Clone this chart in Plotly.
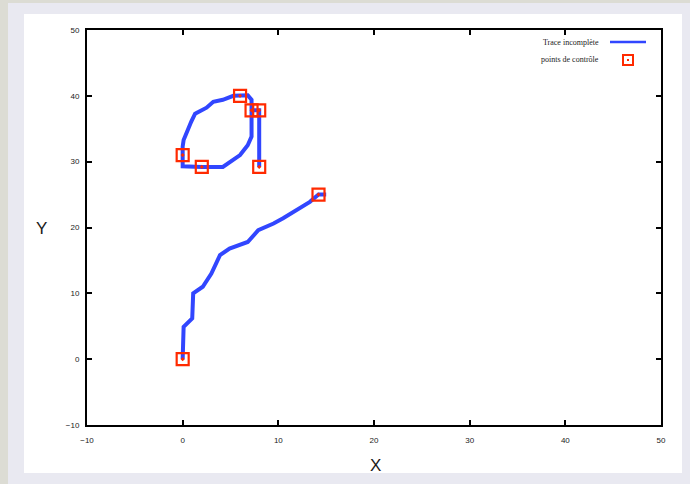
import plotly.graph_objects as go

# Stroke 1: the closed loop with its stem (upper letter)
loop_x = [7.2, 7.2, 6.8, 6.0, 5.3, 4.2, 3.2, 2.5, 1.3, 0.9, 0.5, 0.1, 0.0, 0.0, 0.0, 2.0, 4.2, 6.0, 6.8, 7.2, 7.2, 8.0, 8.0]
loop_y = [37.8, 39.4, 40.1, 40.0, 40.0, 39.4, 39.1, 38.2, 37.3, 36.1, 34.6, 33.3, 32.3, 31.0, 29.3, 29.2, 29.2, 31.0, 32.5, 33.8, 37.8, 37.8, 29.2]

# Stroke 2: the lower rising curve
tail_x = [0.0, 0.0, 0.1, 1.0, 1.0, 1.1, 2.1, 3.0, 3.9, 4.9, 6.8, 7.4, 7.9, 9.5, 10.5, 13.3, 14.2, 15.0]
tail_y = [0.0, 2.5, 4.9, 6.2, 6.9, 10.0, 11.0, 13.0, 15.8, 16.8, 17.8, 18.8, 19.6, 20.6, 21.4, 23.9, 25.0, 25.0]

# Control points
ctrl_x = [0.0, 2.0, 6.0, 7.2, 8.0, 8.0, 0.0, 14.2]
ctrl_y = [31.0, 29.2, 40.0, 37.8, 37.8, 29.2, 0.0, 25.0]

x_ticks = [-10, 0, 10, 20, 30, 40, 50]
y_ticks = [-10, 0, 10, 20, 30, 40, 50]

legend_line = "Trace incomplète"
legend_pts = "points de contrôle"

BLUE = "#3146ff"
RED = "#ff2a00"
TEXT = "#1a1a1a"

fig = go.Figure()
fig.add_trace(go.Scatter(x=loop_x, y=loop_y, mode="lines",
                         line=dict(color=BLUE, width=4), showlegend=False))
fig.add_trace(go.Scatter(x=tail_x, y=tail_y, mode="lines",
                         line=dict(color=BLUE, width=4), showlegend=False))
fig.add_trace(go.Scatter(x=ctrl_x, y=ctrl_y, mode="markers",
                         marker=dict(symbol="square-open-dot", size=12, color=RED,
                                     line=dict(color=RED, width=2.2)),
                         showlegend=False))

L, R, T, B = 87, 29, 30, 59
W, H = 690, 484
PW, PH = W - L - R, H - T - B


def px(xp):
    return (xp - L) / PW


def py(yp):
    return (H - B - yp) / PH


shapes = [
    # page background strips and white panel
    dict(type="rect", xref="paper", yref="paper", x0=px(0), x1=px(8), y0=py(484), y1=py(0),
         fillcolor="#dcdcd4", line=dict(width=0), layer="below"),
    dict(type="rect", xref="paper", yref="paper", x0=px(0), x1=px(690), y0=py(3), y1=py(0),
         fillcolor="#dcdcd4", line=dict(width=0), layer="below"),
    dict(type="rect", xref="paper", yref="paper", x0=px(24), x1=px(682), y0=py(473), y1=py(14),
         fillcolor="white", line=dict(width=0), layer="below"),
    # legend samples
    dict(type="line", xref="paper", yref="paper", x0=px(610), x1=px(646), y0=py(42), y1=py(42),
         line=dict(color=BLUE, width=2.5)),
    dict(type="rect", xref="paper", yref="paper", x0=px(623), x1=px(633), y0=py(65), y1=py(55),
         line=dict(color=RED, width=2), fillcolor="white"),
    dict(type="rect", xref="paper", yref="paper", x0=px(627), x1=px(629), y0=py(61), y1=py(59),
         line=dict(color=RED, width=0), fillcolor=RED),
]

annotations = [
    dict(text=legend_line, xref="paper", yref="paper", x=px(601), y=py(42),
         xanchor="right", yanchor="middle", showarrow=False,
         font=dict(size=8, color=TEXT, family="Liberation Serif")),
    dict(text=legend_pts, xref="paper", yref="paper", x=px(601), y=py(60),
         xanchor="right", yanchor="middle", showarrow=False,
         font=dict(size=8, color=TEXT, family="Liberation Serif")),
    dict(text="X", xref="paper", yref="paper", x=px(375), y=py(465),
         xanchor="center", yanchor="middle", showarrow=False,
         font=dict(size=17, color=TEXT, family="Liberation Sans")),
    dict(text="Y", xref="paper", yref="paper", x=px(41), y=py(228),
         xanchor="center", yanchor="middle", showarrow=False,
         font=dict(size=17, color=TEXT, family="Liberation Sans")),
]

axis_common = dict(showline=True, linecolor="black", linewidth=2, mirror="ticks",
                   ticks="inside", ticklen=5, tickwidth=2, tickcolor="black",
                   showgrid=False, zeroline=False,
                   tickfont=dict(size=8, color=TEXT, family="Liberation Sans"))

fig.update_layout(
    width=W, height=H,
    margin=dict(l=L, r=R, t=T, b=B),
    paper_bgcolor="#e9e9f1",
    plot_bgcolor="white",
    shapes=shapes,
    annotations=annotations,
    showlegend=False,
    xaxis=dict(range=[-10, 50], tickvals=x_ticks, ticklabelstandoff=6, **axis_common),
    yaxis=dict(range=[-10, 50], tickvals=y_ticks, ticklabelstandoff=4, **axis_common),
)

fig.write_html("out.html")
